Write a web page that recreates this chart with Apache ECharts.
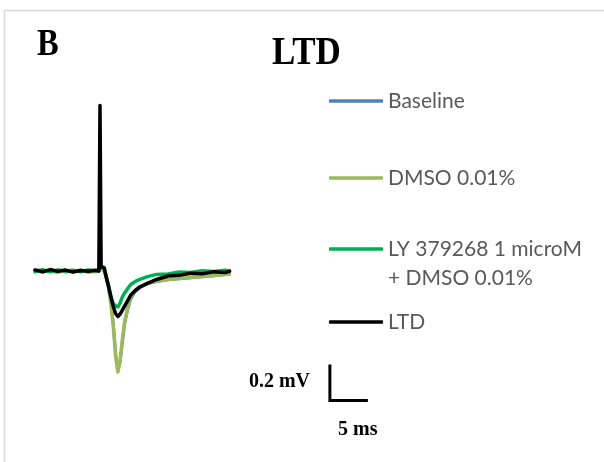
<!DOCTYPE html>
<html>
<head>
<meta charset="utf-8">
<script src="https://cdn.jsdelivr.net/npm/echarts@6/dist/echarts.min.js"></script>
<style>
  html, body { margin: 0; padding: 0; background: #ffffff; }
  #chart { width: 604px; height: 462px; }
</style>
</head>
<body>
<div id="chart"></div>
<script>
// Field potential traces (time in ms, amplitude in mV)
const timeMs = [0, 1, 2, 3, 4, 5, 6, 7, 8, 8.4, 8.55, 8.7, 8.9, 9.1, 9.4, 9.7, 10.0, 10.3, 10.6, 10.9,
  11.2, 11.5, 11.8, 12.2, 12.6, 13.2, 13.8, 14.8, 16, 17.5, 19, 20.5, 22, 23.5, 25, 25.6];

const baselineMv = [-0.005, 0.002, -0.004, 0.004, -0.006, 0.001, -0.003, 0.003, -0.004,
  0.000, 0.004, 0.012, 0.015, 0.002, -0.035, -0.095, -0.180, -0.295, -0.455, -0.556,
  -0.505, -0.395, -0.293, -0.213, -0.155, -0.114, -0.092, -0.070, -0.058, -0.049,
  -0.043, -0.037, -0.032, -0.026, -0.020, -0.018];

const dmsoMv = [0.002, -0.006, 0.001, -0.008, 0.004, -0.005, 0.006, -0.007, -0.002,
  0.000, 0.006, 0.014, 0.017, 0.000, -0.038, -0.100, -0.189, -0.308, -0.472, -0.561,
  -0.494, -0.378, -0.278, -0.200, -0.144, -0.106, -0.086, -0.067, -0.056, -0.047,
  -0.042, -0.036, -0.031, -0.025, -0.019, -0.017];

const lyMv = [-0.003, 0.007, -0.005, 0.006, 0.000, 0.004, -0.004, 0.006, 0.001,
  0.003, 0.010, 0.025, 0.036, 0.020, -0.036, -0.086, -0.142, -0.183, -0.194, -0.200,
  -0.178, -0.144, -0.122, -0.097, -0.075, -0.058, -0.047, -0.031, -0.019, -0.017,
  -0.006, -0.008, 0.001, -0.003, 0.004, 0.002];

const ltdMv = [0.006, -0.004, 0.008, -0.002, 0.005, -0.006, 0.003, -0.001, 0.004,
  0.000, 0.919, 0.022, 0.033, 0.017, -0.039, -0.089, -0.147, -0.197, -0.236, -0.253,
  -0.239, -0.217, -0.194, -0.164, -0.133, -0.108, -0.089, -0.069, -0.047, -0.028,
  -0.024, -0.012, -0.015, -0.004, -0.008, -0.002];

const seriesNames = ['Baseline', 'DMSO 0.01%', 'LY 379268 1 microM\n+ DMSO 0.01%', 'LTD'];
const seriesColors = ['#4f81bd', '#9bbb59', '#00b050', '#000000'];

// Calibration bar: 0.2 mV vertical, 5 ms horizontal
const scaleBarOrigin = [38.8, -0.72];
const scaleBarMv = 0.2;
const scaleBarMs = 5;

function pairs(values) {
  return timeMs.map((t, i) => [t, values[i]]);
}

const traces = [baselineMv, dmsoMv, lyMv, ltdMv];

const chart = echarts.init(document.getElementById('chart'), null, { renderer: 'canvas' });

const legendFont = {
  fontFamily: 'Lato', fontSize: 21, color: '#595959', lineHeight: 29,
  rich: { gap: { lineHeight: 29, fontSize: 21 } }
};
const legendTops = [86.5, 163.5, 205.5, 307.5];

const option = {
  animation: false,
  backgroundColor: '#ffffff',
  grid: { left: 35, top: 91, width: 380, height: 324 },
  xAxis: { type: 'value', min: 0, max: 50, show: false },
  yAxis: { type: 'value', min: -0.8, max: 1.0, show: false },
  legend: seriesNames.map((name, i) => ({
    data: [name],
    left: 329,
    top: legendTops[i],
    padding: 0,
    icon: 'roundRect',
    itemWidth: 54,
    itemHeight: 3.5,
    selectedMode: false,
    // two-line entry: an empty leading line keeps the swatch level with the first line
    formatter: n => (n.indexOf('\n') >= 0 ? '{gap| }\n' + n : n),
    textStyle: legendFont
  })),
  series: traces.map((vals, i) => ({
    name: seriesNames[i],
    type: 'line',
    data: pairs(vals),
    showSymbol: false,
    symbol: 'none',
    color: seriesColors[i],
    lineStyle: { color: seriesColors[i], width: i === 0 ? 3 : 3.5, join: 'round', cap: 'round' },
    z: 2 + i
  })).concat([{
    name: 'scalebar',
    type: 'line',
    data: [
      [scaleBarOrigin[0], scaleBarOrigin[1] + scaleBarMv],
      [scaleBarOrigin[0], scaleBarOrigin[1]],
      [scaleBarOrigin[0] + scaleBarMs, scaleBarOrigin[1]]
    ],
    showSymbol: false,
    symbol: 'none',
    silent: true,
    lineStyle: { color: '#000000', width: 3, join: 'miter', cap: 'butt' },
    z: 10
  }]),
  graphic: [
    {
      type: 'rect',
      shape: { x: 4.5, y: 10.5, width: 700, height: 600 },
      style: { fill: 'none', stroke: '#d9d9d9', lineWidth: 1.5 },
      silent: true
    },
    {
      type: 'text', x: 37, y: 45, scaleX: 0.88,
      style: { text: 'B', font: 'bold 37px "Liberation Serif"', fill: '#000000', align: 'left', verticalAlign: 'middle' }
    },
    {
      type: 'text', x: 272, y: 54, scaleX: 0.875,
      style: { text: 'LTD', font: 'bold 40px "Liberation Serif"', fill: '#000000', align: 'left', verticalAlign: 'middle' }
    },
    {
      type: 'text', x: 310, y: 382,
      style: { text: scaleBarMv + ' mV', font: 'bold 20px "Liberation Serif"', fill: '#000000', align: 'right', verticalAlign: 'middle' }
    },
    {
      type: 'text', x: 338, y: 430,
      style: { text: scaleBarMs + ' ms', font: 'bold 20px "Liberation Serif"', fill: '#000000', align: 'left', verticalAlign: 'middle' }
    }
  ]
};

chart.setOption(option);
</script>
</body>
</html>
